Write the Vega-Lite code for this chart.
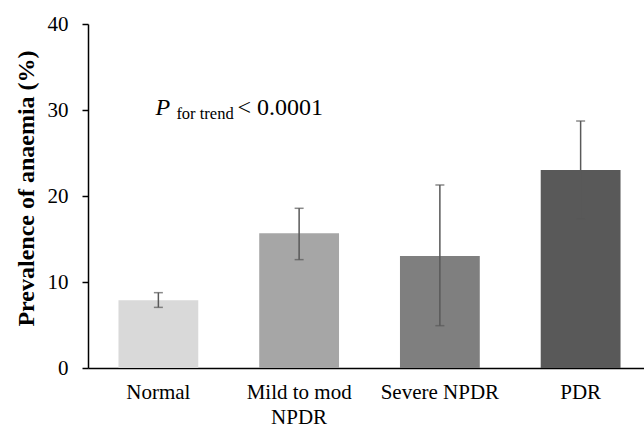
{
  "$schema": "https://vega.github.io/schema/vega-lite/v6.json",
  "autosize": {"type": "none"},
  "width": 556,
  "height": 344,
  "padding": {"left": 88, "top": 24, "right": 0, "bottom": 59},
  "background": "white",
  "config": {
    "view": {"stroke": null},
    "font": "Liberation Serif",
    "axis": {
      "labelFont": "Liberation Serif",
      "labelColor": "black",
      "domainColor": "black",
      "domainWidth": 1.5,
      "grid": false
    },
    "axisY": {
      "labelFontSize": 21,
      "labelPadding": 14,
      "tickColor": "black",
      "tickSize": 6,
      "tickWidth": 1.5
    },
    "axisX": {
      "labelFontSize": 21,
      "labelPadding": 13,
      "labelLineHeight": 25,
      "ticks": false,
      "labelAngle": 0
    }
  },
  "data": {
    "values": [
      {"group": "Normal", "prevalence": 7.87, "lower": 7.05, "upper": 8.76},
      {"group": "Mild to mod NPDR", "prevalence": 15.66, "lower": 12.6, "upper": 18.57},
      {"group": "Severe NPDR", "prevalence": 13.02, "lower": 4.92, "upper": 21.28},
      {"group": "PDR", "prevalence": 23.02, "lower": 17.3, "upper": 28.72}
    ]
  },
  "encoding": {
    "x": {
      "field": "group",
      "type": "nominal",
      "sort": null,
      "scale": {"range": [0, 563], "paddingInner": 0.433, "paddingOuter": 0.2165},
      "axis": {
        "title": null,
        "labelExpr": "datum.label == 'Mild to mod NPDR' ? ['Mild to mod', 'NPDR'] : datum.label"
      }
    }
  },
  "layer": [
    {
      "mark": {"type": "bar"},
      "encoding": {
        "y": {
          "field": "prevalence",
          "type": "quantitative",
          "scale": {"domain": [0, 40]},
          "axis": {
            "title": "Prevalence of anaemia (%)",
            "titleFont": "Liberation Serif",
            "titleFontSize": 24,
            "titleFontWeight": "bold",
            "titleColor": "black",
            "titleAngle": -90,
            "titleX": -62,
            "titleY": 164,
            "titleAlign": "center",
            "titleBaseline": "middle",
            "values": [0, 10, 20, 30, 40]
          }
        },
        "color": {
          "field": "group",
          "type": "nominal",
          "sort": null,
          "scale": {
            "domain": ["Normal", "Mild to mod NPDR", "Severe NPDR", "PDR"],
            "range": ["#d9d9d9", "#a6a6a6", "#7f7f7f", "#595959"]
          },
          "legend": null
        }
      }
    },
    {
      "mark": {"type": "rule", "color": "#595959", "strokeWidth": 1.5},
      "encoding": {
        "y": {"field": "lower", "type": "quantitative"},
        "y2": {"field": "upper"}
      }
    },
    {
      "mark": {"type": "tick", "color": "#595959", "thickness": 1.5, "size": 9},
      "encoding": {"y": {"field": "upper", "type": "quantitative"}}
    },
    {
      "mark": {"type": "tick", "color": "#595959", "thickness": 1.5, "size": 9},
      "encoding": {"y": {"field": "lower", "type": "quantitative"}}
    },
    {
      "data": {"values": [{"label": "P"}]},
      "mark": {"type": "text", "font": "Liberation Serif", "fontStyle": "italic", "fontSize": 24, "align": "left", "baseline": "alphabetic", "dx": -3, "color": "black"},
      "encoding": {
        "x": {"datum": "Normal"},
        "y": {"datum": 29.4},
        "text": {"field": "label"}
      }
    },
    {
      "data": {"values": [{"label": "for trend"}]},
      "mark": {"type": "text", "font": "Liberation Serif", "fontSize": 16.5, "align": "left", "baseline": "alphabetic", "dx": 18, "dy": 4, "color": "black"},
      "encoding": {
        "x": {"datum": "Normal"},
        "y": {"datum": 29.4},
        "text": {"field": "label"}
      }
    },
    {
      "data": {"values": [{"label": "< 0.0001"}]},
      "mark": {"type": "text", "font": "Liberation Serif", "fontSize": 24, "align": "left", "baseline": "alphabetic", "dx": 79, "color": "black"},
      "encoding": {
        "x": {"datum": "Normal"},
        "y": {"datum": 29.4},
        "text": {"field": "label"}
      }
    }
  ]
}
